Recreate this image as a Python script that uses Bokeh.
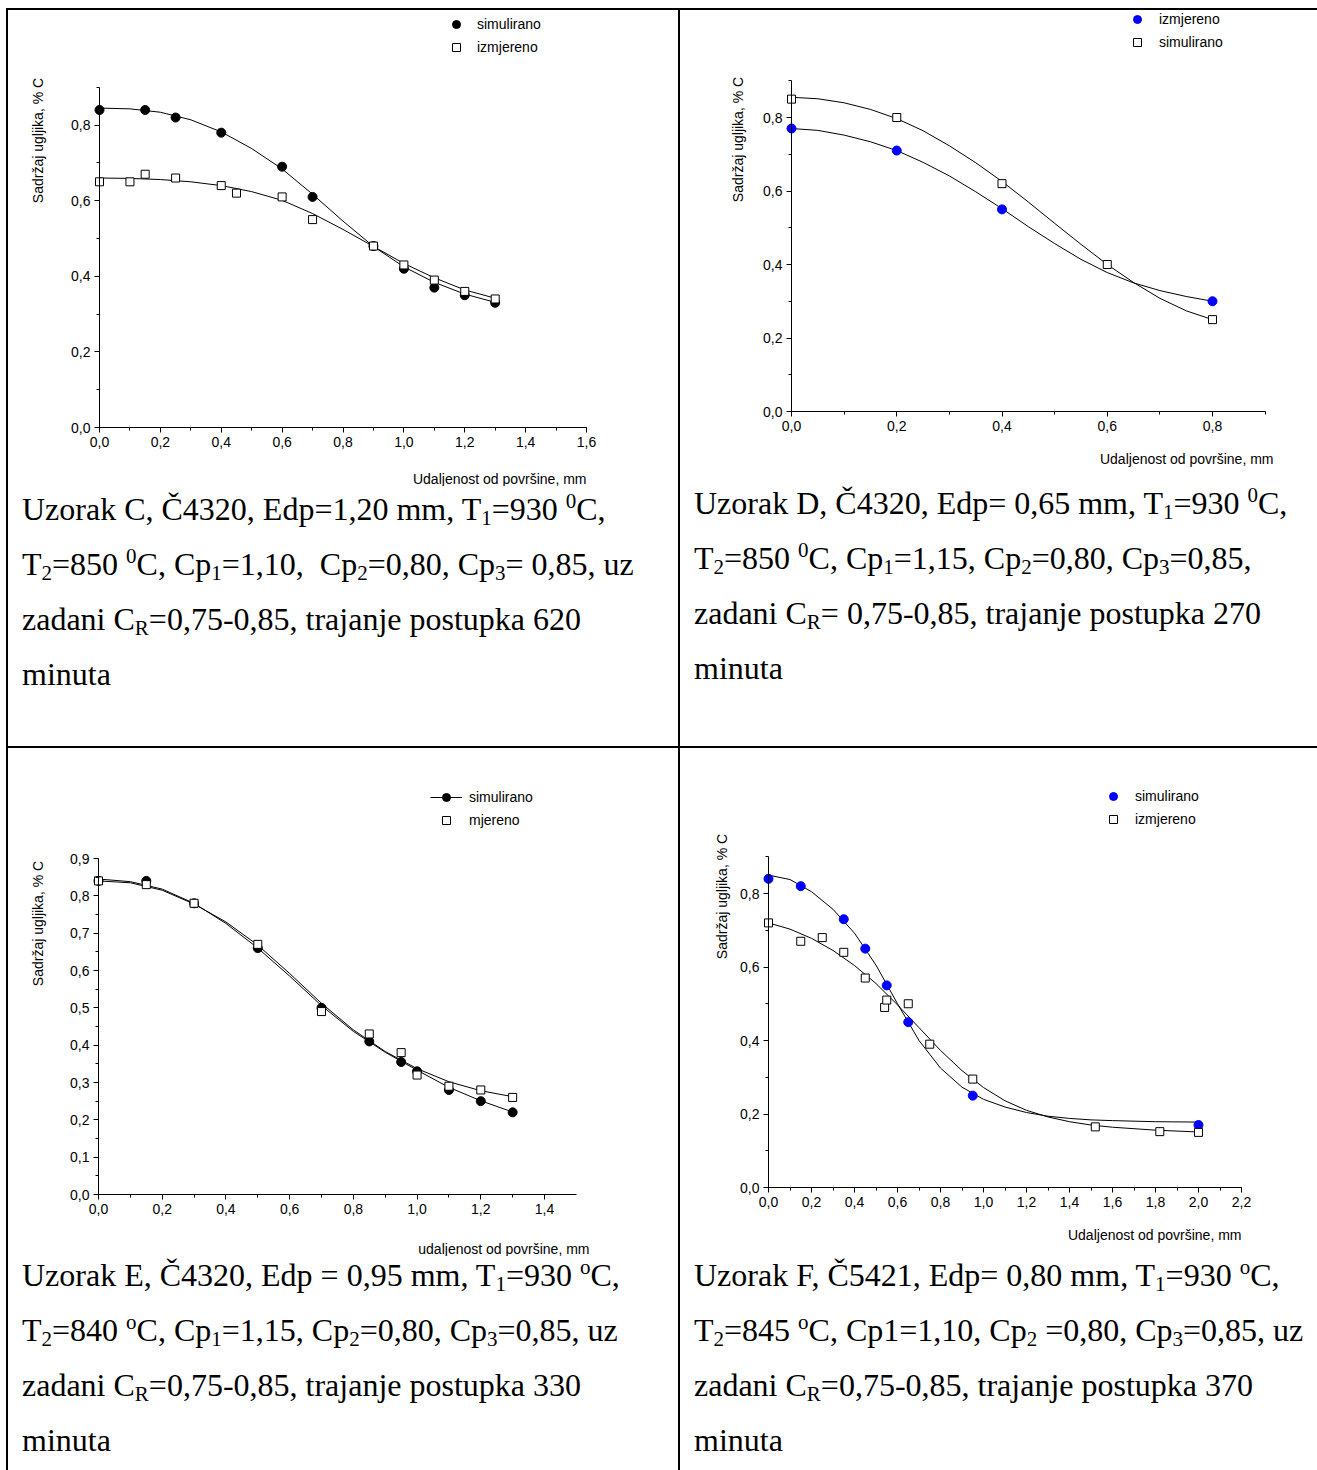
import math
from bokeh.plotting import figure
from bokeh.models import (Range1d, LinearAxis, SingleIntervalTicker, CustomJSTickFormatter,
                          Legend, LegendItem, Label, Div, Spacer)
from bokeh.layouts import column, row
from bokeh.embed import file_html
from bokeh.resources import INLINE

# ---------------- data ----------------
# Uzorak C
c_sim_x = [0, 0.15, 0.25, 0.4, 0.6, 0.7, 0.9, 1.0, 1.1, 1.2, 1.3]
c_sim_y = [0.84, 0.84, 0.82, 0.78, 0.69, 0.61, 0.48, 0.42, 0.37, 0.35, 0.33]
c_izm_x = [0, 0.1, 0.15, 0.25, 0.4, 0.45, 0.6, 0.7, 0.9, 1.0, 1.1, 1.2, 1.3]
c_izm_y = [0.65, 0.65, 0.67, 0.66, 0.64, 0.62, 0.61, 0.55, 0.48, 0.43, 0.39, 0.36, 0.34]
c_fit_x = [0.0, 0.1, 0.2, 0.3, 0.4, 0.5, 0.6, 0.7, 0.8, 0.9, 1.0, 1.1, 1.2, 1.3]
c_sim_fit = [0.845, 0.843, 0.834, 0.814, 0.782, 0.738, 0.684, 0.617, 0.546, 0.479, 0.425, 0.384, 0.353, 0.331]
c_izm_fit = [0.660, 0.659, 0.656, 0.650, 0.640, 0.624, 0.601, 0.566, 0.524, 0.479, 0.434, 0.396, 0.364, 0.342]

# Uzorak D
d_izm_x = [0, 0.2, 0.4, 0.8]
d_izm_y = [0.77, 0.71, 0.55, 0.30]
d_sim_x = [0, 0.2, 0.4, 0.6, 0.8]
d_sim_y = [0.85, 0.80, 0.62, 0.40, 0.25]
d_fit_x = [0.0, 0.05, 0.1, 0.15, 0.2, 0.25, 0.3, 0.35, 0.4, 0.45, 0.5, 0.55, 0.6, 0.65, 0.7, 0.75, 0.8]
d_izm_fit = [0.770, 0.765, 0.752, 0.734, 0.710, 0.678, 0.641, 0.598, 0.552, 0.503, 0.457, 0.414, 0.378, 0.350, 0.329, 0.313, 0.300]
d_sim_fit = [0.855, 0.851, 0.840, 0.822, 0.797, 0.764, 0.723, 0.677, 0.626, 0.570, 0.512, 0.455, 0.400, 0.351, 0.308, 0.274, 0.250]

# Uzorak E
e_sim_x = [0, 0.15, 0.3, 0.5, 0.7, 0.85, 0.95, 1.0, 1.1, 1.2, 1.3]
e_sim_y = [0.84, 0.84, 0.78, 0.66, 0.50, 0.41, 0.355, 0.33, 0.28, 0.25, 0.22]
e_mje_x = [0, 0.15, 0.3, 0.5, 0.7, 0.85, 0.95, 1.0, 1.1, 1.2, 1.3]
e_mje_y = [0.84, 0.83, 0.78, 0.67, 0.49, 0.43, 0.38, 0.32, 0.29, 0.28, 0.26]
e_fit_x = [0.0, 0.1, 0.2, 0.3, 0.4, 0.5, 0.6, 0.7, 0.8, 0.9, 1.0, 1.1, 1.2, 1.3]
e_sim_fit = [0.845, 0.838, 0.818, 0.780, 0.726, 0.660, 0.585, 0.506, 0.437, 0.381, 0.333, 0.287, 0.251, 0.221]
e_mje_fit = [0.840, 0.835, 0.815, 0.778, 0.730, 0.668, 0.592, 0.512, 0.441, 0.383, 0.337, 0.302, 0.278, 0.262]

# Uzorak F
f_sim_x = [0, 0.15, 0.35, 0.45, 0.55, 0.65, 0.95, 2.0]
f_sim_y = [0.84, 0.82, 0.73, 0.65, 0.55, 0.45, 0.25, 0.17]
f_izm_x = [0, 0.15, 0.25, 0.35, 0.45, 0.54, 0.55, 0.65, 0.75, 0.95, 1.52, 1.82, 2.0]
f_izm_y = [0.72, 0.67, 0.68, 0.64, 0.57, 0.49, 0.51, 0.50, 0.39, 0.295, 0.165, 0.152, 0.15]
f_fit_x = [0.0, 0.1, 0.2, 0.3, 0.4, 0.5, 0.6, 0.7, 0.8, 0.9, 1.0, 1.1, 1.2, 1.3, 1.4, 1.5, 1.6, 1.8, 2.0]
f_sim_fit = [0.850, 0.838, 0.805, 0.757, 0.692, 0.605, 0.500, 0.400, 0.325, 0.273, 0.240, 0.219, 0.204, 0.194,
             0.188, 0.184, 0.182, 0.179, 0.178]
f_izm_fit = [0.720, 0.703, 0.678, 0.645, 0.604, 0.555, 0.497, 0.435, 0.373, 0.318, 0.272, 0.236, 0.210, 0.192,
             0.179, 0.170, 0.164, 0.156, 0.151]

y_title = "Sadržaj ugljika, % C"
x_title_upper = "Udaljenost od površine, mm"
x_title_lower = "udaljenost od površine, mm"

# ---------------- styling ----------------
SANS = "Liberation Sans"
FS = "14px"
BLUE = "#0000ff"


def make_chart(cell, origin, xcal, ycal, xbounds, ybounds, xtick, ytick):
    left, top, w, h = cell
    ox, oy = origin
    sx = (xcal[1] - ox) / xcal[0]
    sy = (oy - ycal[1]) / ycal[0]
    p = figure(width=w, height=h,
               x_range=Range1d((left - ox) / sx, (left + w - ox) / sx),
               y_range=Range1d((oy - top - h) / sy, (oy - top) / sy),
               x_axis_type=None, y_axis_type=None, toolbar_location=None,
               output_backend="svg", min_border=0, outline_line_color=None,
               background_fill_color="white", border_fill_color="white", margin=0)
    for side, bnd, tk in (("below", xbounds, xtick), ("left", ybounds, ytick)):
        ax = LinearAxis(fixed_location=0)
        ax.bounds = bnd
        ax.ticker = SingleIntervalTicker(interval=tk[0], num_minor_ticks=tk[1])
        ax.formatter = CustomJSTickFormatter(code="return tick.toFixed(1).replace('.', ',');")
        ax.axis_line_color = "black"
        ax.axis_line_width = 1
        ax.major_tick_line_color = "black"
        ax.minor_tick_line_color = "black"
        ax.major_tick_out = 5
        ax.major_tick_in = 0
        ax.minor_tick_out = 3
        ax.minor_tick_in = 0
        ax.major_label_standoff = 4
        ax.major_label_text_font = SANS
        ax.major_label_text_font_size = FS
        ax.major_label_text_color = "black"
        p.add_layout(ax, side)

    def px2x(px):
        return (px - ox) / sx

    def px2y(py):
        return (oy - py) / sy

    return p, px2x, px2y


def add_titles(p, px2x, px2y, ypos, xtext, xpos):
    p.add_layout(Label(x=px2x(ypos[0]), y=px2y(ypos[1]), text=y_title, angle=math.pi / 2,
                       text_align="center", text_baseline="middle",
                       text_font=SANS, text_font_size=FS, text_color="black"))
    p.add_layout(Label(x=px2x(xpos[0]), y=px2y(xpos[1]), text=xtext,
                       text_align="right", text_baseline="middle",
                       text_font=SANS, text_font_size=FS, text_color="black"))


def add_legend(p, items, loc, standoff):
    lg = Legend(items=items, location=loc, orientation="vertical", glyph_width=32, glyph_height=20,
                label_height=20, label_standoff=standoff, padding=0, spacing=3, margin=0,
                border_line_color=None, background_fill_alpha=0,
                label_text_font=SANS, label_text_font_size=FS, label_text_color="black")
    p.add_layout(lg)


def fit_line(p, x, y):
    return p.line(x, y, line_color="black", line_width=1)


def dots(p, x, y, color):
    return p.scatter(x, y, marker="circle", size=9, fill_color=color, line_color=color)


def squares(p, x, y):
    return p.scatter(x, y, marker="square", size=8, fill_color="white", line_color="black", line_width=1)


# Page geometry: left border at x 6-8, top border at y 8-10,
# vertical divider at x 678-680, horizontal divider at y 746-748.

# ---------- chart C ----------
pC, cx, cy = make_chart((8, 10, 670, 476), (99, 427), (1.6, 586), (0.8, 124.6), (0, 1.6), (0, 0.9), (0.2, 2), (0.2, 2))
fit_line(pC, c_fit_x, c_sim_fit)
fit_line(pC, c_fit_x, c_izm_fit)
rC1 = dots(pC, c_sim_x, c_sim_y, "black")
rC2 = squares(pC, c_izm_x, c_izm_y)
add_legend(pC, [LegendItem(label="simulirano", renderers=[rC1]),
                LegendItem(label="izmjereno", renderers=[rC2])], (432, 429), 5)
add_titles(pC, cx, cy, (37, 140), x_title_upper, (586, 478))

# ---------- chart D ----------
pD, dx, dy = make_chart((680, 10, 637, 466), (791, 411), (0.8, 1212), (0.8, 117), (0, 0.9), (0, 0.9), (0.2, 2), (0.2, 2))
fit_line(pD, d_fit_x, d_izm_fit)
fit_line(pD, d_fit_x, d_sim_fit)
rD1 = dots(pD, d_izm_x, d_izm_y, BLUE)
rD2 = squares(pD, d_sim_x, d_sim_y)
add_legend(pD, [LegendItem(label="izmjereno", renderers=[rD1]),
                LegendItem(label="simulirano", renderers=[rD2])], (441, 424), 6)
add_titles(pD, dx, dy, (737, 139), x_title_upper, (1273, 458))

# ---------- chart E ----------
pE, ex, ey = make_chart((8, 748, 670, 508), (98, 1194), (1.4, 544), (0.9, 858), (0, 1.5), (0, 0.9), (0.2, 2), (0.1, 2))
lE1 = fit_line(pE, e_fit_x, e_sim_fit)
fit_line(pE, e_fit_x, e_mje_fit)
rE1 = dots(pE, e_sim_x, e_sim_y, "black")
rE2 = squares(pE, e_mje_x, e_mje_y)
add_legend(pE, [LegendItem(label="simulirano", renderers=[lE1, rE1]),
                LegendItem(label="mjereno", renderers=[rE2])], (422, 426), 7)
add_titles(pE, ex, ey, (37, 923), x_title_lower, (589, 1248))

# ---------- chart F ----------
pF, fx, fy = make_chart((680, 748, 637, 500), (768, 1187), (2.0, 1198), (0.8, 893), (0, 2.2), (0, 0.9), (0.2, 2), (0.2, 2))
fit_line(pF, f_fit_x, f_sim_fit)
fit_line(pF, f_fit_x, f_izm_fit)
rF1 = dots(pF, f_sim_x, f_sim_y, BLUE)
rF2 = squares(pF, f_izm_x, f_izm_y)
add_legend(pF, [LegendItem(label="simulirano", renderers=[rF1]),
                LegendItem(label="izmjereno", renderers=[rF2])], (417, 419), 6)
add_titles(pF, fx, fy, (721, 896), x_title_upper, (1241, 1234))


# ---------------- captions ----------------
def sb(t):
    return '<span style="font-size:21px;vertical-align:-5px;line-height:0">%s</span>' % t


def sp(t):
    return '<span style="font-size:21px;vertical-align:12px;line-height:0">%s</span>' % t


cap_C = ("Uzorak C, Č4320, Edp=1,20 mm, T%s=930 %sC,<br>"
         "T%s=850 %sC, Cp%s=1,10,&nbsp; Cp%s=0,80, Cp%s= 0,85, uz<br>"
         "zadani C%s=0,75-0,85, trajanje postupka 620<br>minuta") % (
    sb("1"), sp("0"), sb("2"), sp("0"), sb("1"), sb("2"), sb("3"), sb("R"))
cap_D = ("Uzorak D, Č4320, Edp= 0,65 mm, T%s=930 %sC,<br>"
         "T%s=850 %sC, Cp%s=1,15, Cp%s=0,80, Cp%s=0,85,<br>"
         "zadani C%s= 0,75-0,85, trajanje postupka 270<br>minuta") % (
    sb("1"), sp("0"), sb("2"), sp("0"), sb("1"), sb("2"), sb("3"), sb("R"))
cap_E = ("Uzorak E, Č4320, Edp = 0,95 mm, T%s=930 %sC,<br>"
         "T%s=840 %sC, Cp%s=1,15, Cp%s=0,80, Cp%s=0,85, uz<br>"
         "zadani C%s=0,75-0,85, trajanje postupka 330<br>minuta") % (
    sb("1"), sp("o"), sb("2"), sp("o"), sb("1"), sb("2"), sb("3"), sb("R"))
cap_F = ("Uzorak F, Č5421, Edp= 0,80 mm, T%s=930 %sC,<br>"
         "T%s=845 %sC, Cp1=1,10, Cp%s =0,80, Cp%s=0,85, uz<br>"
         "zadani C%s=0,75-0,85, trajanje postupka 370<br>minuta") % (
    sb("1"), sp("o"), sb("2"), sp("o"), sb("2"), sb("3"), sb("R"))


def caption(html, w, h, pad_left, shift=0):
    style = ("font-family:'Liberation Serif','Times New Roman',serif;font-size:32px;line-height:55px;"
             "color:#000;white-space:nowrap;padding-left:%dpx;position:relative;top:%dpx;" % (pad_left, -shift))
    return Div(text='<div style="%s">%s</div>' % (style, html), width=w, height=h, margin=0)


def hline(w):
    return Div(text="", width=w, height=2, margin=0, styles={"background-color": "black"})


def vline(h):
    return Div(text="", width=2, height=h, margin=0, styles={"background-color": "black"})


cellC = column(pC, caption(cap_C, 670, 260, 14, shift=4), spacing=0)
cellD = column(pD, caption(cap_D, 637, 270, 14), spacing=0)
cellE = column(pE, caption(cap_E, 670, 214, 14, shift=8), spacing=0)
cellF = column(pF, caption(cap_F, 637, 222, 14), spacing=0)

row1 = row(vline(736), cellC, vline(736), cellD, spacing=0)
row2 = row(vline(722), cellE, vline(722), cellF, spacing=0)
table = column(hline(1311), row1, hline(1311), row2, spacing=0)
page = column(Spacer(width=1317, height=8, margin=0),
              row(Spacer(width=6, height=1462, margin=0), table, spacing=0),
              spacing=0)

open("out.html", "w").write(file_html(page, INLINE, "Sadržaj ugljika"))
